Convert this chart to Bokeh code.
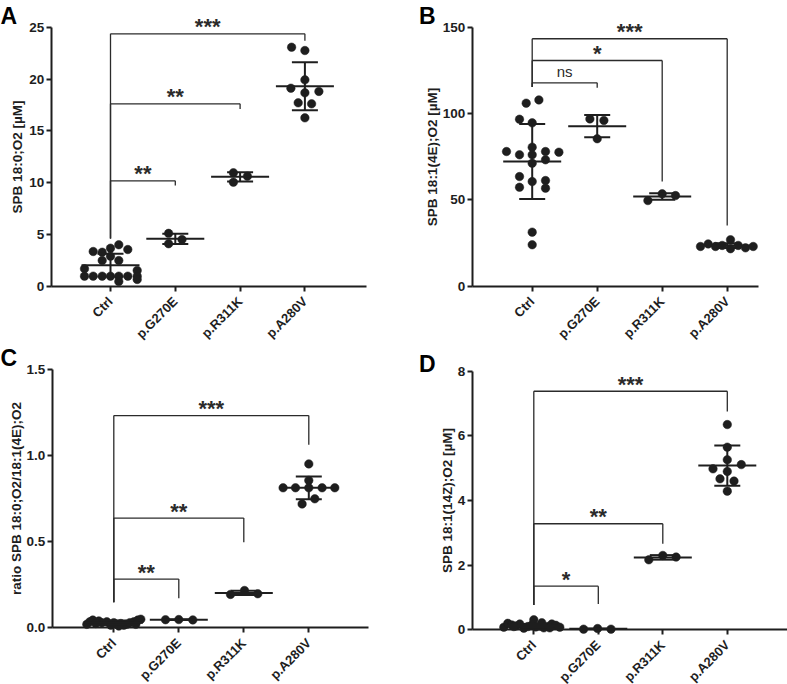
import numpy as np
from bokeh.plotting import figure
from bokeh.models import Range1d, FixedTicker, Label, PrintfTickFormatter
from bokeh.layouts import column, row
from bokeh.embed import file_html
from bokeh.resources import INLINE
from bokeh.core.properties import value

categories = ["Ctrl", "p.G270E", "p.R311K", "p.A280V"]

# ---------------- Panel A : SPB 18:0;O2 [µM]
a_ctrl = [4.0, 3.67, 3.54, 3.35, 3.28, 2.9, 2.48, 2.48, 1.68, 1.52, 0.97, 0.97, 0.97, 0.97, 0.97, 0.97, 0.97, 0.45, 0.65]
a_g270e = [5.1, 4.1, 4.5]
a_r311k = [10.95, 10.04, 10.62]
a_a280v = [23.07, 22.75, 19.92, 19.11, 18.67, 18.8, 17.7, 17.6, 16.25]
a_mean = [2.03, 4.57, 10.56, 19.3]
a_sd = [1.1, 0.49, 0.45, 2.32]
a_yticks = [0, 5, 10, 15, 20, 25]
a_sig = ["**", "**", "***"]
a_sig_y = [10.17, 17.6, 24.36]
a_sig_end = [9.72, 17.1, 23.7]
a_sig_start = 4.6

# ---------------- Panel B : SPB 18:1(4E);O2 [µM]
b_ctrl = [106.0, 107.9, 96.7, 94.6, 80.5, 78.0, 77.6, 76.1, 76.1, 78.0, 73.2, 71.2, 63.5, 60.6, 61.2, 57.3, 56.8, 31.3, 24.0]
b_g270e = [96.9, 96.0, 85.4]
b_r311k = [49.6, 53.5, 52.5]
b_a280v = [23.0, 24.5, 23.0, 23.6, 26.9, 21.7, 23.6, 22.2, 23.0]
b_mean = [72.2, 92.7, 52.0, 23.5]
b_sd = [21.7, 6.5, 1.9, 1.4]
b_yticks = [0, 50, 100, 150]
b_sig = ["ns", "*", "***"]
b_sig_y = [117.8, 130.7, 143.3]
b_sig_end = [114.9, 60.6, 35.2]
b_sig_start = 115.3

# ---------------- Panel C : ratio SPB 18:0;O2/18:1(4E);O2
c_ctrl = [0.02, 0.045, 0.04, 0.03, 0.035, 0.015, 0.03, 0.02, 0.025, 0.015, 0.02, 0.03, 0.035, 0.045, 0.05, 0.035, 0.025, 0.01, 0.02]
c_g270e = [0.047, 0.048, 0.046]
c_r311k = [0.194, 0.217, 0.198]
c_a280v = [0.953, 0.857, 0.814, 0.814, 0.814, 0.814, 0.814, 0.75, 0.72]
c_mean = [0.03, 0.047, 0.203, 0.814]
c_sd = [0.012, 0.002, 0.012, 0.066]
c_yticks = [0.0, 0.5, 1.0, 1.5]
c_sig = ["**", "**", "***"]
c_sig_y = [0.283, 0.638, 1.234]
c_sig_end = [0.172, 0.498, 1.064]
c_sig_start = 0.149

# ---------------- Panel D : SPB 18:1(14Z);O2 [µM]
d_ctrl = [0.08, 0.2, 0.15, 0.12, 0.18, 0.05, 0.1, 0.15, 0.31, 0.09, 0.12, 0.06, 0.1, 0.18, 0.14, 0.08, 0.1, 0.22, 0.06]
d_g270e = [0.02, 0.04, 0.02]
d_r311k = [2.165, 2.3, 2.25]
d_a280v = [6.35, 5.65, 5.26, 4.98, 5.11, 4.9, 4.67, 4.6, 4.29]
d_mean = [0.12, 0.03, 2.24, 5.08]
d_sd = [0.06, 0.01, 0.07, 0.62]
d_yticks = [0, 2, 4, 6, 8]
d_sig = ["*", "**", "***"]
d_sig_y = [1.35, 3.28, 7.38]
d_sig_end = [0.80, 2.66, 6.75]
d_sig_start = 0.77

# horizontal scatter of the dots inside each column (pixels)
a_jit = [[8.3, 0, 17.3, -17.3, -8.3, 0, -8.3, 8.3, -26, 26.7, -26, -17.3, -8.3, 0, 8.3, 17.3, 26.7, 8.3, 26.7],
         [-6.7, -6.7, 6.7], [-6.7, -6.7, 7.3], [-13.3, 0, 0, -14, 0, 14, -6.7, 6.7, 0]]
b_jit = [[-6, 6.7, -12.7, 0, 0, -25.7, 26.7, -12.7, 0, 13.3, 13.3, 0, -12.7, 0, 13.3, -12.7, 13.3, 0, 0],
         [-7.3, 6.7, 0], [-14.3, 0, 13.3], [-26.7, -19, -11.7, -5, 3.3, 3.3, 11, 18.3, 26]]
c_jit = [[-27, -21, -15, -12, -7, -3, 0, 3, 7, 10, 13, 16, 20, 24, 27, -24, -18, 5, 22],
         [-13.3, 0, 14], [-13.3, 0.7, 14], [0, 0, -25.7, -13.3, 0, 13.3, 26, 6, -6.7]]
d_jit = [[-30, -26, -22, -18, -14, -10, -6, -2, 0, 2, 6, 10, 14, 18, 22, 26, -20, 8, 16],
         [-14.7, -0.7, 12.7], [-14, 0, 13.3], [0, 0, 0, -14.3, 14, 0, -7.3, 6.7, 0]]

FONT = "Liberation Sans"
INK = "#1e1e1e"
LINE = "#2b2b2b"

# layout (page pixels)
LA = dict(fig=(0, 0, 393, 344), yax=50.7, cat0=110.0, step=64.8, y0=285.7, ytop=26.7,
          xend=365.7, letter=(0, 2.7), fmt="%d", lab_standoff=1)
LB = dict(fig=(393, 0, 394, 344), yax=471.7, cat0=531.7, step=65.0, y0=285.7, ytop=26.7,
          xend=758.3, letter=(418.5, 2.7), fmt="%d", lab_standoff=0)
LC = dict(fig=(0, 344, 393, 340), yax=51.7, cat0=113.3, step=65.0, y0=627.3, ytop=369.3,
          xend=368.3, letter=(0, 344.5), fmt="%.1f", lab_standoff=0)
LD = dict(fig=(393, 344, 394, 340), yax=471.7, cat0=533.3, step=64.5, y0=629.3, ytop=370.7,
          xend=800, letter=(418.5, 350.7), fmt="%d", lab_standoff=0)


def style_axis(ax, size):
    ax.axis_line_width = 2
    ax.axis_line_color = INK
    ax.major_tick_line_width = 2
    ax.major_tick_line_color = INK
    ax.major_tick_out = 5
    ax.major_tick_in = 0
    ax.minor_tick_out = 0
    ax.minor_tick_in = 0
    ax.major_label_text_font = FONT
    ax.major_label_text_font_style = "bold"
    ax.major_label_text_font_size = size
    ax.major_label_text_color = INK


def panel(L, groups, jits, means, sds, yticks, sig, sig_y, sig_end, sig_start, ylabel, letter):
    ox, oy, W, H = L["fig"]
    cat0, step, y0, ytop = L["cat0"], L["step"], L["y0"], L["ytop"]
    top = yticks[-1]
    scale = (y0 - ytop) / top

    def X(px):
        return (px - cat0) / step

    def Y(py):
        return (y0 - py) / scale

    p = figure(width=W, height=H, x_range=Range1d(X(ox), X(ox + W)), y_range=Range1d(Y(oy + H), Y(oy)),
               output_backend="svg", toolbar_location=None, tools="", min_border=0,
               min_border_left=0, min_border_right=0, min_border_top=0, min_border_bottom=0)
    p.grid.visible = False
    p.outline_line_color = None
    p.background_fill_color = "white"
    p.border_fill_color = "white"

    ya = p.yaxis[0]
    ya.fixed_location = X(L["yax"])
    ya.bounds = (0, top)
    ya.ticker = FixedTicker(ticks=yticks)
    ya.formatter = PrintfTickFormatter(format=L["fmt"])
    style_axis(ya, "13.5px")
    ya.major_label_standoff = 2
    ya.axis_label = ylabel
    ya.axis_label_standoff = L["lab_standoff"]
    ya.axis_label_text_font = FONT
    ya.axis_label_text_font_style = "bold"
    ya.axis_label_text_font_size = "13.5px"
    ya.axis_label_text_color = INK

    idx = np.arange(len(categories))
    xa = p.xaxis[0]
    xa.fixed_location = 0
    xa.bounds = (X(L["yax"]), X(L["xend"]))
    xa.ticker = FixedTicker(ticks=list(idx))
    xa.major_label_overrides = {int(i): c for i, c in zip(idx, categories)}
    style_axis(xa, "13px")
    xa.major_label_standoff = 8
    xa.major_label_orientation = np.pi / 4

    # dots
    for i, (vals, jit) in enumerate(zip(groups, jits)):
        xs = i + np.array(jit) / step
        p.scatter(x=xs, y=vals, size=8.5, fill_color=INK, line_color=INK, line_width=0.5)

    # mean +- SD
    m = np.array(means)
    s = np.array(sds)
    cap = 13.0 / step
    mw = 29.0 / step
    p.segment(x0=idx, y0=m - s, x1=idx, y1=m + s, line_width=2, line_color=INK)
    p.segment(x0=idx - cap, y0=m + s, x1=idx + cap, y1=m + s, line_width=2, line_color=INK)
    p.segment(x0=idx - cap, y0=m - s, x1=idx + cap, y1=m - s, line_width=2, line_color=INK)
    p.segment(x0=idx - mw, y0=m, x1=idx + mw, y1=m, line_width=2, line_color=INK)

    # significance brackets
    js = np.arange(1, len(categories))
    hy = np.array(sig_y)
    p.segment(x0=0, y0=hy, x1=js, y1=hy, line_width=1.3, line_color=LINE)
    p.segment(x0=0, y0=sig_start, x1=0, y1=hy, line_width=1.3, line_color=LINE)
    p.segment(x0=js, y0=np.array(sig_end), x1=js, y1=hy, line_width=1.3, line_color=LINE)
    star_x, star_y, star_t, ns_x, ns_y, ns_t = [], [], [], [], [], []
    for j, t, h in zip(js, sig, hy):
        if t == "ns":
            ns_x.append(j / 2.0)
            ns_y.append(h + 11.7 / scale)
            ns_t.append(t)
        else:
            star_x.append(j / 2.0)
            star_y.append(h + 7.0 / scale)
            star_t.append(t)
    if star_t:
        p.text(x=star_x, y=star_y, text=star_t, text_font=value(FONT), text_font_style="bold",
               text_font_size="22px", text_align="center", text_baseline="alphabetic", text_color=LINE)
    if ns_t:
        p.text(x=ns_x, y=ns_y, text=ns_t, text_font=value(FONT), text_font_style="normal",
               text_font_size="15px", text_align="center", text_baseline="alphabetic", text_color=LINE)

    # panel letter
    px_, py_ = L["letter"]
    p.add_layout(Label(x=X(px_), y=Y(py_), text=letter, text_align="left", text_baseline="top",
                       text_font=FONT, text_font_style="bold", text_font_size="23px", text_color="#000000"))
    return p


pA = panel(LA, [a_ctrl, a_g270e, a_r311k, a_a280v], a_jit, a_mean, a_sd, a_yticks,
           a_sig, a_sig_y, a_sig_end, a_sig_start, "SPB 18:0;O2 [µM]", "A")
pB = panel(LB, [b_ctrl, b_g270e, b_r311k, b_a280v], b_jit, b_mean, b_sd, b_yticks,
           b_sig, b_sig_y, b_sig_end, b_sig_start, "SPB 18:1(4E);O2 [µM]", "B")
pC = panel(LC, [c_ctrl, c_g270e, c_r311k, c_a280v], c_jit, c_mean, c_sd, c_yticks,
           c_sig, c_sig_y, c_sig_end, c_sig_start, "ratio SPB 18:0;O2/18:1(4E);O2", "C")
pD = panel(LD, [d_ctrl, d_g270e, d_r311k, d_a280v], d_jit, d_mean, d_sd, d_yticks,
           d_sig, d_sig_y, d_sig_end, d_sig_start, "SPB 18:1(14Z);O2 [µM]", "D")

layout = column(row(pA, pB), row(pC, pD))
open("out.html", "w").write(file_html(layout, INLINE, "SPB"))
